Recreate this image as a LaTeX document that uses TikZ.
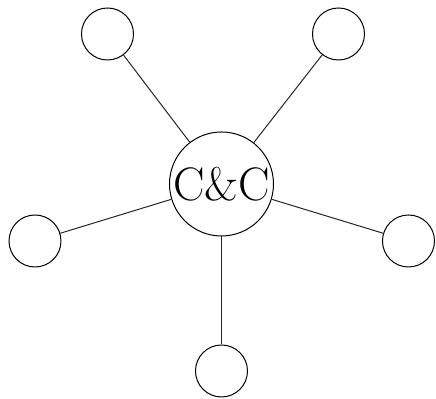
\documentclass[tikz,border=0pt]{standalone}
\usetikzlibrary{positioning}

\begin{document}
\begin{tikzpicture}[
    line width=0.5pt,
    hub/.style={draw, circle, minimum size=52pt, inner sep=0pt, font=\fontsize{23.5pt}{28pt}\selectfont},
    leaf/.style={draw, circle, minimum size=26pt, inner sep=0pt},
    link/.style={draw, black!85}
  ]
    \useasboundingbox (-110.75pt,-107.5pt) rectangle (107.25pt,92pt);
    \node[hub] (cc) at (0,0) {C\&C};
    \node[leaf] (nw) at (-57pt,75pt) {};
    \node[leaf] (ne) at (58.5pt,75pt) {};
    \node[leaf] (w) at (-93.25pt,-28.5pt) {};
    \node[leaf] (e) at (93.5pt,-28.5pt) {};
    \node[leaf] (s) at (0,-93.5pt) {};
    \draw[link] (cc) -- (nw);
    \draw[link] (cc) -- (ne);
    \draw[link] (cc) -- (w);
    \draw[link] (cc) -- (e);
    \draw[link] (cc) -- (s);
\end{tikzpicture}
\end{document}
